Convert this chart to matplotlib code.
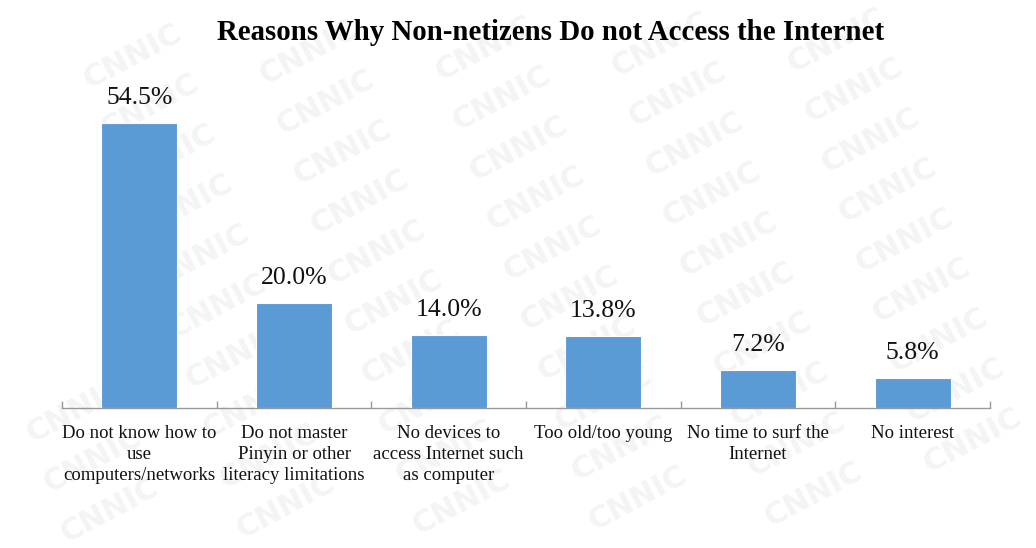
import matplotlib
matplotlib.use("Agg")
import matplotlib.pyplot as plt
import numpy as np

title = "Reasons Why Non-netizens Do not Access the Internet"
categories = [
    "Do not know how to\nuse\ncomputers/networks",
    "Do not master\nPinyin or other\nliteracy limitations",
    "No devices to\naccess Internet such\nas computer",
    "Too old/too young",
    "No time to surf the\nInternet",
    "No interest",
]
values = [54.5, 20.0, 14.0, 13.8, 7.2, 5.8]

serif = ["Liberation Serif", "DejaVu Serif"]
bar_color = "#5B9BD5"

fig = plt.figure(figsize=(10.36, 5.48), dpi=100)
fig.patch.set_facecolor("white")

# light tiled watermark behind the chart
for i in range(-3, 9):
    for j in range(-2, 14):
        x = i * 176 + j * 17 - 60
        y = j * 50 - i * 4 + 10
        if 60 < x < 976 and 30 < y < 520:
            fig.text(x / 1036, 1 - y / 548, "CNNIC", fontsize=22,
                     fontweight="bold", family="DejaVu Sans",
                     color="#f4f4f4", rotation=28, ha="center",
                     va="center", zorder=0)

ax = fig.add_axes([62 / 1036, (548 - 408) / 548, 928 / 1036, 314 / 548])
ax.set_facecolor("none")
ax.set_zorder(1)

x = np.arange(len(values))
bars = ax.bar(x, values, width=0.49, color=bar_color,
              edgecolor="white", linewidth=0.8, zorder=3)

for xi, v in zip(x, values):
    ax.text(xi, v + 2.7, f"{v:.1f}%", ha="center", va="bottom",
            fontsize=18.5, family=serif, color="#111111")

ax.set_xlim(-0.5, len(values) - 0.5)
ax.set_ylim(0, 60)
ax.set_yticks([])
for s in ["top", "right", "left"]:
    ax.spines[s].set_visible(False)
ax.spines["bottom"].set_color("#999999")
ax.spines["bottom"].set_linewidth(1.0)

ax.set_xticks(np.arange(-0.5, len(values), 1.0))
ax.set_xticklabels([])
ax.tick_params(axis="x", direction="in", length=5, color="#999999", width=1.0)

for xi, lab in zip(x, categories):
    ax.annotate(lab, xy=(xi, 0), xycoords="data",
                xytext=(0, -12), textcoords="offset points",
                ha="center", va="top", fontsize=13.5, family=serif,
                linespacing=1.33, color="#111111")

fig.text(551 / 1036, 1 - 32 / 548, title, ha="center", va="center",
         fontsize=20.8, fontweight="bold", family=serif, color="#000000")

fig.savefig("out.png", dpi=100, facecolor="white")
